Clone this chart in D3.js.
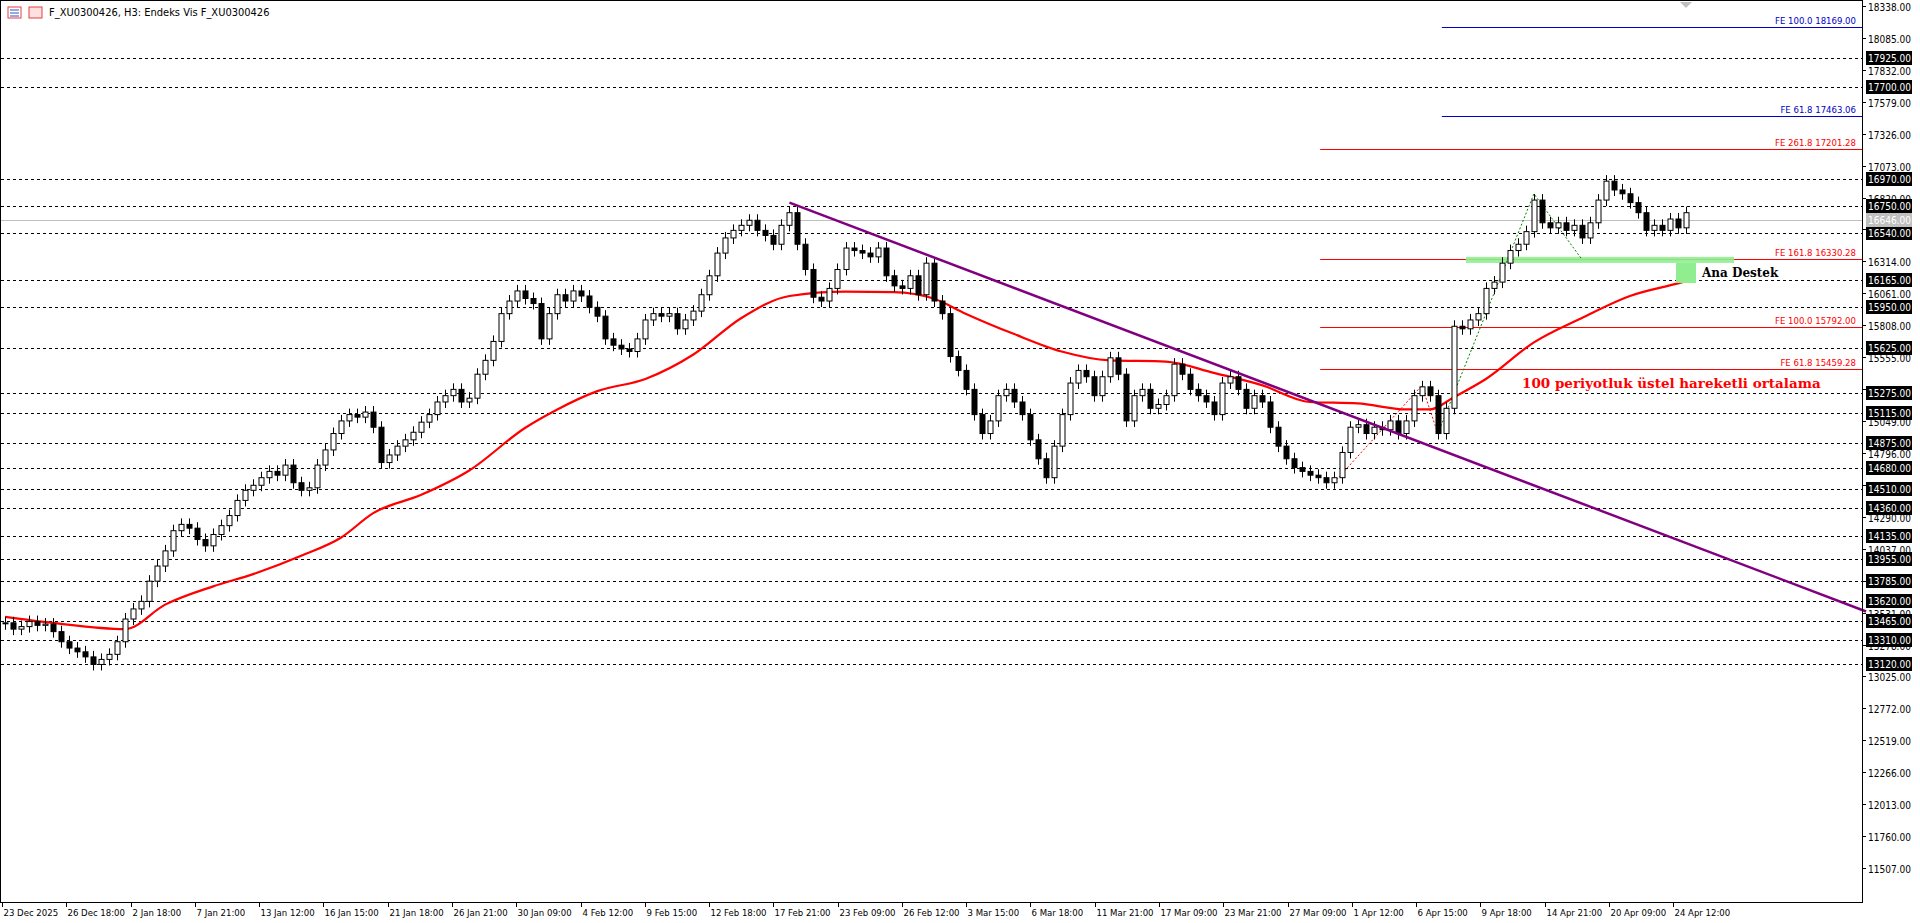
<!DOCTYPE html>
<html><head><meta charset="utf-8">
<script src="https://cdn.jsdelivr.net/npm/d3@7"></script>
<style>body{margin:0;background:#fff;overflow:hidden}svg{display:block}text{font-family:"DejaVu Sans Condensed","DejaVu Sans",Tahoma,sans-serif}text.serif{font-family:"DejaVu Serif","Liberation Serif",serif}</style>
</head><body><svg id="c" width="1920" height="923"></svg>
<script>
// ---- data ----
const closes = [13450,13400,13420,13460,13430,13440,13380,13300,13250,13220,13180,13120,13160,13200,13300,13480,13560,13620,13780,13900,
14020,14180,14230,14200,14110,14060,14150,14220,14300,14420,14500,14540,14600,14650,14620,14700,14560,14500,14520,14700,
14820,14950,15050,15100,15080,15120,15000,14720,14780,14850,14900,14960,15040,15100,15200,15250,15300,15200,15230,15420,
15530,15680,15900,16000,16080,16020,15980,15700,15900,16050,16000,16080,16040,15950,15880,15700,15650,15620,15600,15700,
15850,15900,15880,15900,15780,15850,15920,16050,16200,16380,16500,16560,16600,16640,16560,16520,16450,16600,16700,16450,
16250,16030,16000,16100,16250,16420,16400,16380,16350,16420,16200,16120,16100,16200,16050,16300,16000,15900,15560,15450,
15300,15100,14950,15050,15250,15300,15200,15100,14900,14750,14600,14850,15100,15350,15450,15400,15250,15400,15550,15420,
15050,15250,15300,15150,15180,15250,15500,15420,15300,15250,15200,15100,15350,15400,15300,15150,15250,15200,15000,14850,
14750,14680,14650,14620,14600,14560,14600,14800,15000,15020,14950,15000,14980,15050,14950,15050,15250,15320,15250,14950,
15150,15800,15780,15850,15900,16100,16150,16300,16400,16450,16550,16800,16620,16580,16620,16560,16600,16500,16620,16800,
16950,16880,16850,16780,16700,16560,16600,16560,16650,16580,16700];
const emaIdx = [0,6,15,20,26,31,37,42,46,52,58,65,69,74,80,86,92,98,105,111,116,120,126,132,138,145,151,157,163,169,175,178,181,185,191,197,203,209,211];
const emaVal = [13497,13449,13400,13594,13739,13836,13981,14126,14319,14464,14657,14996,15141,15286,15382,15576,15866,16040,16075,16070,16020,15900,15740,15600,15530,15520,15431,15334,15200,15189,15141,15141,15238,15382,15672,15866,16040,16140,16175];
const levels = [17925,17700,16970,16750,16540,16165,15950,15625,15275,15115,14875,14680,14510,14360,14135,13955,13785,13620,13465,13310,13120];
const axisTicks = d3.range(11507, 18339, 253);
const xLabels = ["23 Dec 2025","26 Dec 18:00","2 Jan 18:00","7 Jan 21:00","13 Jan 12:00","16 Jan 15:00","21 Jan 18:00","26 Jan 21:00","30 Jan 09:00","4 Feb 12:00","9 Feb 15:00","12 Feb 18:00","17 Feb 21:00","23 Feb 09:00","26 Feb 12:00","3 Mar 15:00","6 Mar 18:00","11 Mar 21:00","17 Mar 09:00","23 Mar 21:00","27 Mar 09:00","1 Apr 12:00","6 Apr 15:00","9 Apr 18:00","14 Apr 21:00","20 Apr 09:00","24 Apr 12:00"];
const fibBlue = [{v:18169.00,t:"FE 100.0 18169.00"},{v:17463.06,t:"FE 61.8 17463.06"}];
const fibRed = [{v:17201.28,t:"FE 261.8 17201.28"},{v:16330.28,t:"FE 161.8 16330.28"},{v:15792.00,t:"FE 100.0 15792.00"},{v:15459.28,t:"FE 61.8 15459.28"}];
const trend = [[98,16780],[232.5,13540]];
const redZig = [[166,14560],[177,15330],[179,14950]];
const greenZig = [[179,14950],[191,16850],[197,16330]];
const grayLevel = 16646;

// ---- scales ----
const W=1862, H=902;
const svg=d3.select("#c");
const y=d3.scaleLinear().domain([18338,11507]).range([6,868]);
const x=d3.scaleLinear().domain([0,210]).range([5,1686]);

svg.append("g").selectAll("line").data(levels).join("line")
 .attr("x1",1).attr("x2",W).attr("y1",d=>Math.round(y(d))+.5).attr("y2",d=>Math.round(y(d))+.5)
 .attr("stroke","#000").attr("stroke-dasharray","3,3");
svg.append("line").attr("x1",1).attr("x2",W).attr("y1",Math.round(y(grayLevel))+.5).attr("y2",Math.round(y(grayLevel))+.5).attr("stroke","#c0c0c0");

const fibG=svg.append("g");
fibBlue.forEach(f=>{const yy=Math.round(y(f.v))+.5;
 fibG.append("line").attr("x1",x(179.5)).attr("x2",W).attr("y1",yy).attr("y2",yy).attr("stroke","#0000c8");
 fibG.append("text").attr("x",W-6).attr("y",yy-4).attr("text-anchor","end").attr("font-size",9.5).attr("fill","#0000c8").text(f.t);});
fibRed.forEach(f=>{const yy=Math.round(y(f.v))+.5;
 fibG.append("line").attr("x1",x(164.3)).attr("x2",W).attr("y1",yy).attr("y2",yy).attr("stroke","#ff0000");
 fibG.append("text").attr("x",W-6).attr("y",yy-4).attr("text-anchor","end").attr("font-size",9.5).attr("fill","#ff0000").text(f.t);});

svg.append("rect").attr("x",x(182.5)).attr("width",x(216)-x(182.5)).attr("y",y(16350)).attr("height",y(16302)-y(16350)).attr("fill","#90ee90").attr("opacity",0.9);

const ln=d3.line().x(d=>x(d[0])).y(d=>y(d[1]));
svg.append("path").attr("d",ln(redZig)).attr("fill","none").attr("stroke","#ff0000").attr("stroke-dasharray","2,2");
svg.append("path").attr("d",ln(greenZig)).attr("fill","none").attr("stroke","#008000").attr("stroke-dasharray","2,2");

svg.append("path").attr("d",d3.line().curve(d3.curveMonotoneX).x((d,i)=>x(emaIdx[i])).y(d=>y(d))(emaVal))
 .attr("fill","none").attr("stroke","#ff0000").attr("stroke-width",2.2);

const cg=svg.append("g");
closes.forEach((c,i)=>{
 const o=i?closes[i-1]:c; const cx=Math.round(x(i))+.5;
 const top=y(Math.max(o,c)), bot=y(Math.min(o,c));
 cg.append("line").attr("x1",cx).attr("x2",cx).attr("y1",top-6).attr("y2",Math.max(bot,top+1)+6).attr("stroke","#000");
 cg.append("rect").attr("x",cx-2.5).attr("width",5).attr("y",top).attr("height",Math.max(1,bot-top))
  .attr("fill",c>=o?"#fff":"#000").attr("stroke","#000");
});

svg.append("path").attr("d",ln(trend)).attr("stroke","#800080").attr("stroke-width",2.5).attr("fill","none");

svg.append("rect").attr("x",1676).attr("width",20).attr("y",y(16302)).attr("height",y(16143)-y(16302)).attr("fill","#90ee90");
svg.append("text").attr("class","serif").attr("x",1702).attr("y",277).attr("font-size",12).attr("font-weight","bold").attr("fill","#000").text("Ana Destek");
svg.append("text").attr("class","serif").attr("x",1522).attr("y",388).attr("font-size",13.5).attr("font-weight","bold").attr("fill","#ff0000").text("100 periyotluk üstel hareketli ortalama");

svg.append("rect").attr("x",0.5).attr("y",0.5).attr("width",W).attr("height",H).attr("fill","none").attr("stroke","#000");

const ra=svg.append("g");
axisTicks.forEach(t=>{const yy=Math.round(y(t))+.5;
 ra.append("line").attr("x1",W).attr("x2",W+4).attr("y1",yy).attr("y2",yy).attr("stroke","#000");
 ra.append("text").attr("x",W+6).attr("y",yy+4).attr("font-size",10).attr("fill","#000").text(t.toFixed(2));});
const lab=(v,bg)=>{const yy=Math.round(y(v));
 ra.append("rect").attr("x",W+4).attr("y",yy-7).attr("width",46).attr("height",14).attr("fill",bg);
 ra.append("text").attr("x",W+6).attr("y",yy+4).attr("font-size",10).attr("fill","#fff").text(v.toFixed(2));};
levels.forEach(v=>lab(v,"#000")); lab(grayLevel,"#c0c0c0");

const ba=svg.append("g");
xLabels.forEach((t,k)=>{const xx=Math.round(x(k*8.03))-2.5;
 ba.append("line").attr("x1",xx).attr("x2",xx).attr("y1",H).attr("y2",H+5).attr("stroke","#000");
 ba.append("text").attr("x",xx+1).attr("y",H+14).attr("font-size",9.5).attr("fill","#000").text(t);});

const hg=svg.append("g");
hg.append("rect").attr("x",8).attr("y",7).attr("width",13).attr("height",11).attr("fill","#fff").attr("stroke","#e04040");
[10,13,16].forEach(v=>hg.append("line").attr("x1",10).attr("x2",19).attr("y1",v).attr("y2",v).attr("stroke","#3050c0"));
hg.append("rect").attr("x",29).attr("y",7).attr("width",13).attr("height",11).attr("fill","#fde0e0").attr("stroke","#e04040");
hg.append("text").attr("x",49).attr("y",16).attr("font-size",11).attr("fill","#000").text("F_XU0300426, H3:  Endeks Vis F_XU0300426");
hg.append("path").attr("d","M1680,2 L1692,2 L1686,8 Z").attr("fill","#c0c0c0");
</script></body></html>
